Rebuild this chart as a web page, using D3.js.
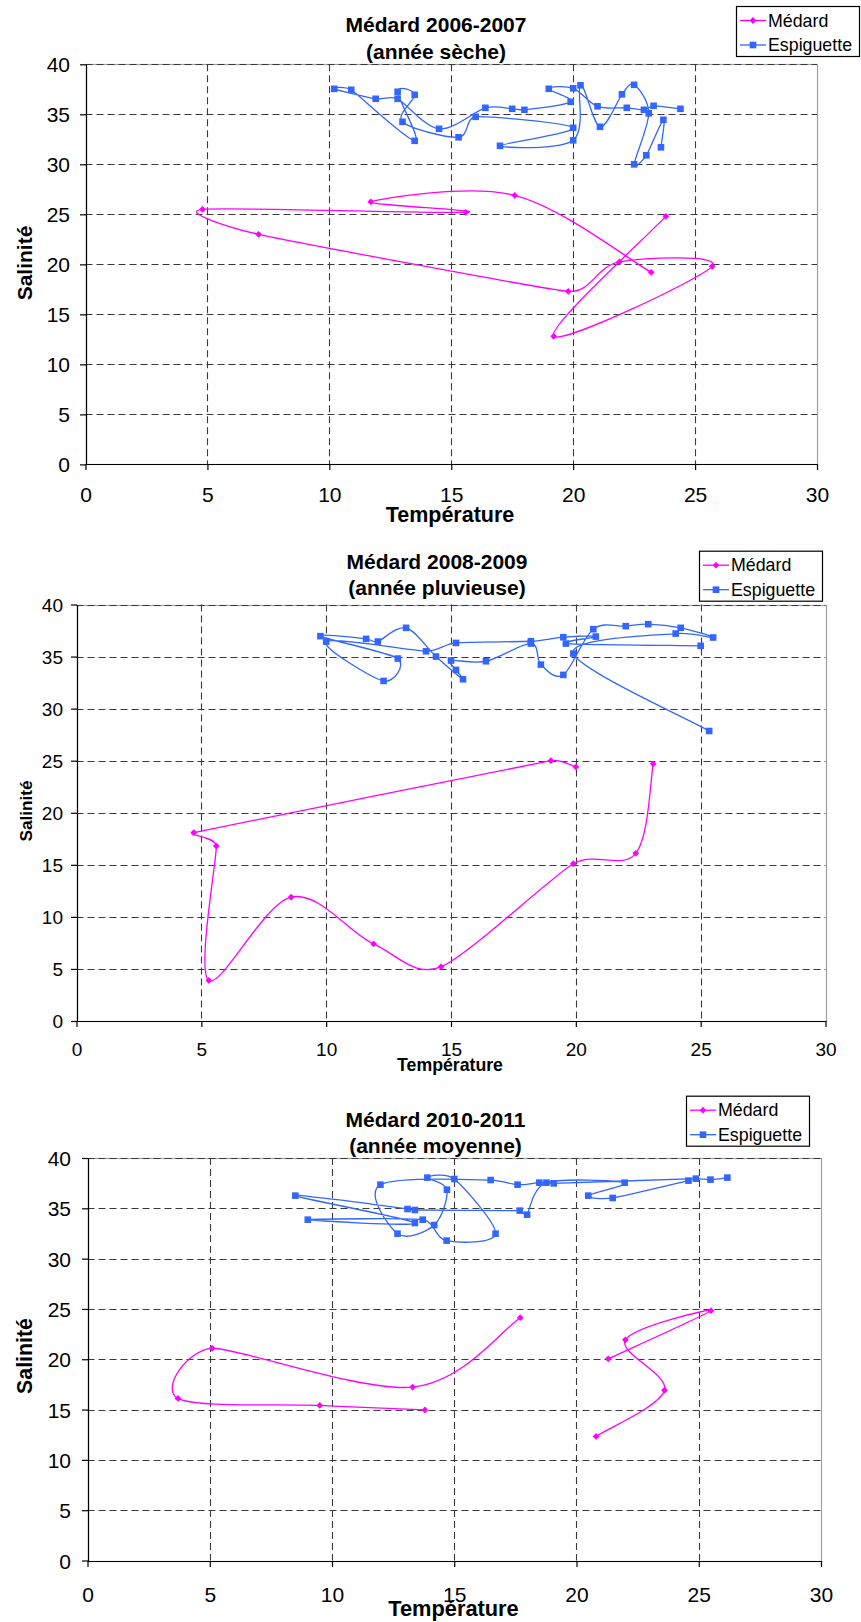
<!DOCTYPE html>
<html>
<head>
<meta charset="utf-8">
<script src="https://cdn.jsdelivr.net/npm/d3@7"></script>
<style>
  body { margin: 0; background: #fff; }
  svg { display: block; }
  text { font-family: "Liberation Sans", Arial, sans-serif; }
</style>
</head>
<body>
<div id="chart"></div>
<script>
// ticks shared by the three charts
var xTicks = [0, 5, 10, 15, 20, 25, 30];
var yTicks = [0, 5, 10, 15, 20, 25, 30, 35, 40];
var seriesNames = ["Médard", "Espiguette"];

// [température, salinité], in measurement order (null = gap)
var medard0607 = [[23.2,19.2],[17.6,26.9],[11.7,26.25],[15.6,25.2],[4.8,25.5],[7.1,23.0],
  [19.8,17.3],[21.9,20.25],[25.7,19.8],[19.2,12.8],[23.8,24.8]];
var espiguette0607 = [[24.4,35.55],[23.3,35.85],[22.9,35.45],[22.2,35.65],[21.0,35.8],[20.0,37.6],
  [19.0,37.55],[19.9,36.25],[18.0,35.45],[17.5,35.55],[16.4,35.65],[14.5,33.55],[12.8,36.55],
  [11.9,36.55],[10.2,37.55],[10.9,37.45],[13.5,32.35],[12.8,37.25],[13.5,36.95],[13.0,34.25],
  [15.3,32.7],[16.0,34.75],[20.0,33.65],[17.0,31.85],[20.0,32.4],[20.3,37.9],[21.1,33.75],
  [22.0,37.0],[22.5,37.95],[23.1,35.1],[22.5,30.0],[23.0,30.9],[23.7,34.45],[23.6,31.7]];

var medard0809 = [[20.0,24.4],[19.0,25.0],[4.7,18.1],[5.6,16.8],[5.3,3.9],[8.6,11.9],
  [11.9,7.4],[14.6,5.2],[19.9,15.1],[22.4,16.1],[23.1,24.7]];
var espiguette0809 = [[25.0,36.03],[19.6,36.25],[20.8,36.92],[19.5,36.86],[18.2,36.47],[15.2,36.31],
  [14.0,35.51],[10.0,36.44],[12.3,32.66],[12.87,34.81],[9.77,36.96],[11.6,36.7],[12.07,36.44],
  [13.2,37.76],[14.4,35.0],[15.48,32.82],[15.2,33.72],[15.0,34.62],[16.4,34.55],[18.2,36.25],
  [18.6,34.23],[19.5,33.24],[20.7,37.63],[22.0,37.92],[22.9,38.11],[24.2,37.76],[25.5,36.83],
  [24.0,37.21],[19.9,35.29],[25.34,27.85]];

var medard1011 = [[17.7,24.13],[13.3,17.23],[5.1,21.09],[3.7,16.11],[9.5,15.41],[13.8,14.96],
  null,[20.8,12.33],[23.6,16.92],[22.0,21.93],[25.5,24.83],[21.3,20.04]];
var espiguette1011 = [[24.58,37.75],[21.48,36.03],[20.48,36.26],[21.97,37.55],[18.77,37.55],
  [17.98,34.37],[17.68,34.77],[13.39,34.83],[13.09,34.93],[8.5,36.26],[13.39,33.54],[9.01,33.87],
  [13.71,33.87],[14.69,31.79],[16.69,32.48],[15.0,37.91],[13.9,38.05],[14.7,36.85],[14.18,33.34],
  [12.68,32.48],[11.98,37.35],[16.49,37.81],[17.59,37.35],[18.48,37.55],[19.07,37.48],
  [24.88,37.95],[25.48,37.85],[26.17,38.05]];

var colors = { medard: "#ff00ff", espiguette: "#3366ff" };

var charts = [
  { title: ["Médard 2006-2007", "(année sèche)"], medard: medard0607, espiguette: espiguette0607,
    left: 85.5, right: 817, top: 64.3, bottom: 464.4, tickFont: 21, xLabelY: 38, yLabelGap: 16,
    titleX: 436, titleY: [31.5, 58.5], titleFont: 21,
    xTitle: { x: 450, y: 522, size: 21.5 }, yTitle: { x: 24, y: 263, size: 21 },
    legend: { x: 736, y: 6 } },
  { title: ["Médard 2008-2009", "(année pluvieuse)"], medard: medard0809, espiguette: espiguette0809,
    left: 76.5, right: 825.5, top: 604.5, bottom: 1021, tickFont: 19, xLabelY: 35, yLabelGap: 14,
    titleX: 437, titleY: [568.5, 595], titleFont: 21,
    xTitle: { x: 450, y: 1071, size: 17.7 }, yTitle: { x: 25.5, y: 811, size: 17.2 },
    legend: { x: 699, y: 550.7 } },
  { title: ["Médard 2010-2011", "(année moyenne)"], medard: medard1011, espiguette: espiguette1011,
    left: 87.5, right: 821, top: 1158, bottom: 1560.5, tickFont: 21, xLabelY: 41, yLabelGap: 17,
    titleX: 435.5, titleY: [1127, 1152.5], titleFont: 21,
    xTitle: { x: 453.5, y: 1616, size: 21.8 }, yTitle: { x: 24.7, y: 1356, size: 21.3 },
    legend: { x: 686, y: 1095.7 } }
];

var svg = d3.select("#chart").append("svg")
  .attr("width", 861).attr("height", 1622);
svg.append("rect").attr("width", 861).attr("height", 1622).attr("fill", "#fff");

function diamond(s) { return "M0," + (-s) + "L" + s + ",0L0," + s + "L" + (-s) + ",0Z"; }

// smoothed line like the spreadsheet one: bezier arms (p[i+1]-p[i-1])/6,
// clipped so short segments don't make big loops
function smoothPath(pts) {
  var p = d3.path();
  function dist(a, b) { return Math.hypot(b[0] - a[0], b[1] - a[1]); }
  function arm(i) {
    var prev = pts[i - 1] || pts[i], next = pts[i + 1] || pts[i];
    var v = [(next[0] - prev[0]) / 6, (next[1] - prev[1]) / 6];
    var len = Math.hypot(v[0], v[1]);
    var segs = [];
    if (pts[i - 1]) segs.push(dist(pts[i - 1], pts[i]));
    if (pts[i + 1]) segs.push(dist(pts[i], pts[i + 1]));
    var lim = 0.4 * d3.min(segs);
    if (len > lim && len > 0) { v = [v[0] * lim / len, v[1] * lim / len]; }
    return v;
  }
  p.moveTo(pts[0][0], pts[0][1]);
  for (var i = 0; i < pts.length - 1; i++) {
    var a1 = arm(i), a2 = arm(i + 1);
    p.bezierCurveTo(pts[i][0] + a1[0], pts[i][1] + a1[1],
      pts[i + 1][0] - a2[0], pts[i + 1][1] - a2[1], pts[i + 1][0], pts[i + 1][1]);
  }
  return p.toString();
}

function drawMarkers(g, data, key, x, y) {
  var pts = data.filter(function(d) { return d; });
  if (key == "medard") {
    g.selectAll(null).data(pts).enter().append("path")
      .attr("d", diamond(3.4))
      .attr("transform", function(d) { return "translate(" + x(d[0]) + "," + y(d[1]) + ")"; })
      .attr("fill", colors.medard);
  } else {
    g.selectAll(null).data(pts).enter().append("rect")
      .attr("x", function(d) { return x(d[0]) - 3.3; })
      .attr("y", function(d) { return y(d[1]) - 3.3; })
      .attr("width", 6.6).attr("height", 6.6)
      .attr("fill", colors.espiguette);
  }
}

function drawChart(c) {
  var x = d3.scaleLinear().domain([0, 30]).range([c.left, c.right]);
  var y = d3.scaleLinear().domain([0, 40]).range([c.bottom, c.top]);
  var g = svg.append("g");

  // plot area border
  g.append("rect")
    .attr("x", Math.round(c.left) + 0.5).attr("y", Math.round(c.top) + 0.5)
    .attr("width", Math.round(c.right) - Math.round(c.left))
    .attr("height", Math.round(c.bottom) - Math.round(c.top))
    .attr("fill", "none").attr("stroke", "#a0a0a0").attr("stroke-width", 1.2);

  // dashed grid
  g.selectAll(".hgrid").data(yTicks.filter(function(v) { return v > 0; })).enter().append("line")
    .attr("x1", c.left).attr("x2", c.right)
    .attr("y1", function(d) { return Math.round(y(d)) + 0.5; })
    .attr("y2", function(d) { return Math.round(y(d)) + 0.5; })
    .attr("stroke", "#3a3a3a").attr("stroke-width", 1.1).attr("stroke-dasharray", "7,4");
  g.selectAll(".vgrid").data(xTicks.filter(function(v) { return v > 0 && v < 30; })).enter().append("line")
    .attr("y1", c.top).attr("y2", c.bottom)
    .attr("x1", function(d) { return Math.round(x(d)) + 0.5; })
    .attr("x2", function(d) { return Math.round(x(d)) + 0.5; })
    .attr("stroke", "#3a3a3a").attr("stroke-width", 1.1).attr("stroke-dasharray", "7,4");

  // axes
  var xAxis = d3.axisBottom(x).tickValues(xTicks).tickSizeInner(6).tickSizeOuter(0);
  var yAxis = d3.axisLeft(y).tickValues(yTicks).tickSizeInner(6).tickSizeOuter(0);
  var gx = g.append("g").attr("transform", "translate(0," + Math.round(c.bottom) + ")").call(xAxis);
  var gy = g.append("g").attr("transform", "translate(" + Math.round(c.left) + ",0)").call(yAxis);
  [gx, gy].forEach(function(a) {
    a.selectAll("path,line").attr("stroke", "#000").attr("stroke-width", 1.2);
    a.selectAll("text").attr("font-size", c.tickFont)
      .attr("font-family", '"Liberation Sans", Arial, sans-serif').attr("fill", "#000");
  });
  gx.selectAll("text").attr("y", c.xLabelY).attr("dy", null);
  gy.selectAll("text").attr("x", -c.yLabelGap).attr("dy", "0.36em");

  // series lines, split at gaps
  ["espiguette", "medard"].forEach(function(key) {
    var runs = [[]];
    c[key].forEach(function(d) {
      if (d) runs[runs.length - 1].push([x(d[0]), y(d[1])]);
      else runs.push([]);
    });
    runs.filter(function(r) { return r.length > 1; }).forEach(function(r) {
      g.append("path").attr("d", smoothPath(r))
        .attr("fill", "none").attr("stroke", colors[key]).attr("stroke-width", 1.3);
    });
    drawMarkers(g, c[key], key, x, y);
  });

  // titles
  var t = g.append("text").attr("text-anchor", "middle").attr("font-weight", "bold")
    .attr("font-size", c.titleFont).attr("fill", "#000");
  c.title.forEach(function(s, i) {
    t.append("tspan").attr("x", c.titleX).attr("y", c.titleY[i]).text(s);
  });
  g.append("text").attr("x", c.xTitle.x).attr("y", c.xTitle.y)
    .attr("text-anchor", "middle").attr("font-weight", "bold")
    .attr("font-size", c.xTitle.size).text("Température");
  g.append("text")
    .attr("transform", "translate(" + c.yTitle.x + "," + c.yTitle.y + ") rotate(-90)")
    .attr("text-anchor", "middle").attr("dy", "0.36em").attr("font-weight", "bold")
    .attr("font-size", c.yTitle.size).text("Salinité");

  // legend
  var lg = g.append("g").attr("transform", "translate(" + c.legend.x + "," + c.legend.y + ")");
  lg.append("rect").attr("x", 0.5).attr("y", 0.5).attr("width", 123).attr("height", 50)
    .attr("fill", "#fff").attr("stroke", "#000").attr("stroke-width", 1.2);
  ["medard", "espiguette"].forEach(function(key, i) {
    var ly = 14.5 + i * 24.5;
    lg.append("line").attr("x1", 4).attr("x2", 30).attr("y1", ly).attr("y2", ly)
      .attr("stroke", colors[key]).attr("stroke-width", 1.3);
    var sx = d3.scaleLinear().range([17, 17]), sy = d3.scaleLinear().range([ly, ly]);
    drawMarkers(lg, [[0, 0]], key, sx, sy);
    lg.append("text").attr("x", 32).attr("y", ly + 6.3).attr("font-size", 17.8)
      .attr("fill", "#000").text(seriesNames[i]);
  });
}

charts.forEach(drawChart);
</script>
</body>
</html>
